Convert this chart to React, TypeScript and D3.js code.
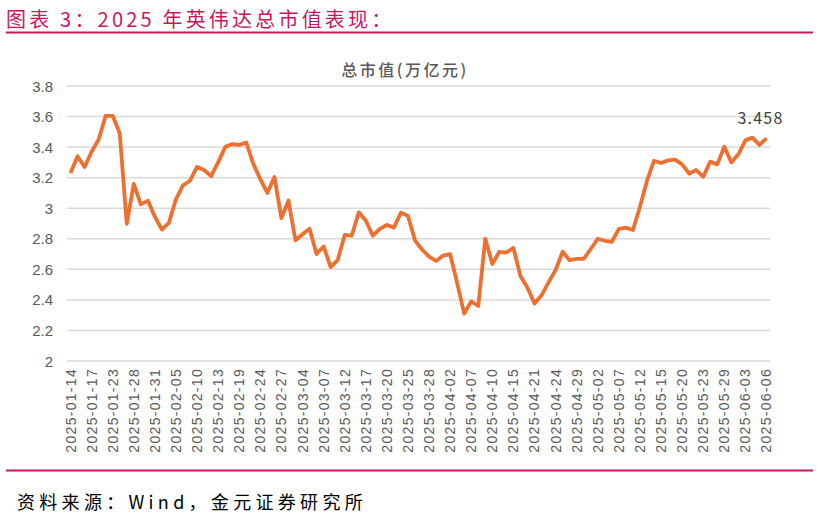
import { useRef, useEffect } from "react";
import * as d3 from "d3";

const dates = [
  "2025-01-14", "2025-01-15", "2025-01-16", "2025-01-17", "2025-01-21", "2025-01-22", "2025-01-23", "2025-01-24", "2025-01-27", "2025-01-28",
  "2025-01-29", "2025-01-30", "2025-01-31", "2025-02-03", "2025-02-04", "2025-02-05", "2025-02-06", "2025-02-07", "2025-02-10", "2025-02-11",
  "2025-02-12", "2025-02-13", "2025-02-14", "2025-02-18", "2025-02-19", "2025-02-20", "2025-02-21", "2025-02-24", "2025-02-25", "2025-02-26",
  "2025-02-27", "2025-02-28", "2025-03-03", "2025-03-04", "2025-03-05", "2025-03-06", "2025-03-07", "2025-03-10", "2025-03-11", "2025-03-12",
  "2025-03-13", "2025-03-14", "2025-03-17", "2025-03-18", "2025-03-19", "2025-03-20", "2025-03-21", "2025-03-24", "2025-03-25", "2025-03-26",
  "2025-03-27", "2025-03-28", "2025-03-31", "2025-04-01", "2025-04-02", "2025-04-03", "2025-04-04", "2025-04-07", "2025-04-08", "2025-04-09",
  "2025-04-10", "2025-04-11", "2025-04-14", "2025-04-15", "2025-04-16", "2025-04-17", "2025-04-21", "2025-04-22", "2025-04-23", "2025-04-24",
  "2025-04-25", "2025-04-28", "2025-04-29", "2025-04-30", "2025-05-01", "2025-05-02", "2025-05-05", "2025-05-06", "2025-05-07", "2025-05-08",
  "2025-05-09", "2025-05-12", "2025-05-13", "2025-05-14", "2025-05-15", "2025-05-16", "2025-05-19", "2025-05-20", "2025-05-21", "2025-05-22",
  "2025-05-23", "2025-05-27", "2025-05-28", "2025-05-29", "2025-05-30", "2025-06-02", "2025-06-03", "2025-06-04", "2025-06-05", "2025-06-06",
];

const marketCap = [
  3.23, 3.34, 3.27, 3.37, 3.45, 3.605, 3.605, 3.49, 2.897, 3.16,
  3.025, 3.05, 2.945, 2.86, 2.905, 3.06, 3.15, 3.18, 3.27, 3.25,
  3.21, 3.3, 3.4, 3.42, 3.415, 3.43, 3.29, 3.19, 3.1, 3.205,
  2.935, 3.05, 2.79, 2.83, 2.865, 2.7, 2.75, 2.615, 2.66, 2.825,
  2.82, 2.973, 2.92, 2.82, 2.865, 2.89, 2.873, 2.97, 2.95, 2.79,
  2.73, 2.683, 2.655, 2.69, 2.7, 2.51, 2.31, 2.39, 2.36, 2.8,
  2.635, 2.715, 2.71, 2.74, 2.556, 2.48, 2.377, 2.43, 2.515, 2.595,
  2.715, 2.66, 2.668, 2.668, 2.733, 2.8, 2.787, 2.78, 2.865, 2.873,
  2.857, 3.01, 3.18, 3.31, 3.296, 3.313, 3.318, 3.287, 3.226, 3.25,
  3.206, 3.305, 3.287, 3.403, 3.3, 3.353, 3.444, 3.462, 3.414, 3.458,
];

const yTicks = [2, 2.2, 2.4, 2.6, 2.8, 3, 3.2, 3.4, 3.6, 3.8];

const titleText = "图表 3：2025 年英伟达总市值表现：";
const chartTitle = "总市值(万亿元)";
const sourceText = "资料来源：Wind，金元证券研究所";
const lastLabel = "3.458";

export default function App() {
  const svgRef = useRef<SVGSVGElement>(null);

  useEffect(() => {
    drawChart();
  }, []);

  function drawChart() {
    if (!svgRef.current) return;
    const svg = d3.select(svgRef.current);
    svg.selectAll("*").remove();

    const width = 819;
    const left = 67;
    const right = 770;
    const top = 86;
    const bottom = 361;
    const cjk = "'Noto Sans CJK SC', sans-serif";
    const gray = "#595959";
    const red = "#C8175E";

    svg.append("rect").attr("width", width).attr("height", 522).attr("fill", "#fff");

    // header
    svg
      .append("text")
      .attr("x", 6)
      .attr("y", 27)
      .attr("fill", red)
      .style("font-family", cjk)
      .style("font-size", "20px")
      .style("letter-spacing", "3.2px")
      .text(titleText);
    svg
      .append("line")
      .attr("x1", 6)
      .attr("x2", 813)
      .attr("y1", 32.5)
      .attr("y2", 32.5)
      .attr("stroke", red)
      .attr("stroke-width", 2);

    // footer
    svg
      .append("line")
      .attr("x1", 6)
      .attr("x2", 813)
      .attr("y1", 470.5)
      .attr("y2", 470.5)
      .attr("stroke", red)
      .attr("stroke-width", 2);
    svg
      .append("text")
      .attr("x", 17)
      .attr("y", 509)
      .attr("fill", "#000")
      .style("font-family", cjk)
      .style("font-size", "18px")
      .style("letter-spacing", "4.3px")
      .text(sourceText);

    const x = d3
      .scaleBand<string>()
      .domain(dates)
      .range([left, right]);
    const y = d3.scaleLinear().domain([2, 3.8]).range([bottom, top]);
    const cx = (d: string) => (x(d) ?? 0) + x.bandwidth() / 2;

    // chart title
    svg
      .append("text")
      .attr("x", 405)
      .attr("y", 76)
      .attr("text-anchor", "middle")
      .attr("fill", gray)
      .style("font-family", cjk)
      .style("font-size", "16px")
      .style("font-weight", "500")
      .style("letter-spacing", "2.5px")
      .text(chartTitle);

    // gridlines
    svg
      .append("g")
      .selectAll("line")
      .data(yTicks)
      .enter()
      .append("line")
      .attr("x1", left)
      .attr("x2", right)
      .attr("y1", (d) => y(d))
      .attr("y2", (d) => y(d))
      .attr("stroke", "#D9D9D9")
      .attr("stroke-width", 1.5);

    // y labels
    svg
      .append("g")
      .selectAll("text")
      .data(yTicks)
      .enter()
      .append("text")
      .attr("x", 53)
      .attr("y", (d) => y(d) + 5.5)
      .attr("text-anchor", "end")
      .attr("fill", gray)
      .style("font-family", "'Liberation Sans', Arial, sans-serif")
      .style("font-size", "15px")
      .text((d) => String(d));

    // x labels (every 3rd trading day)
    const labelDates = dates.filter((_, i) => i % 3 === 0);
    svg
      .append("g")
      .selectAll("text")
      .data(labelDates)
      .enter()
      .append("text")
      .attr("transform", (d) => `translate(${cx(d) + 5}, 368) rotate(-90)`)
      .attr("text-anchor", "end")
      .attr("fill", gray)
      .style("font-family", "'Liberation Sans', Arial, sans-serif")
      .style("font-size", "14px")
      .style("letter-spacing", "1.3px")
      .text((d) => d);

    // line
    const line = d3
      .line<number>()
      .x((_, i) => cx(dates[i]))
      .y((d) => y(d));
    svg
      .append("path")
      .datum(marketCap)
      .attr("fill", "none")
      .attr("stroke", "#ED7031")
      .attr("stroke-width", 3.8)
      .attr("stroke-linejoin", "round")
      .attr("d", line);

    // last value label
    const lastDate = dates[dates.length - 1];
    svg
      .append("text")
      .attr("x", cx(lastDate) - 6)
      .attr("y", 124)
      .attr("text-anchor", "middle")
      .attr("fill", "#404040")
      .style("font-family", cjk)
      .style("font-size", "16px")
      .style("letter-spacing", "1.2px")
      .text(lastLabel);
  }

  return (
    <svg
      ref={svgRef}
      width={819}
      height={522}
      style={{ display: "block", position: "absolute", left: 0, top: 0 }}
    />
  );
}
